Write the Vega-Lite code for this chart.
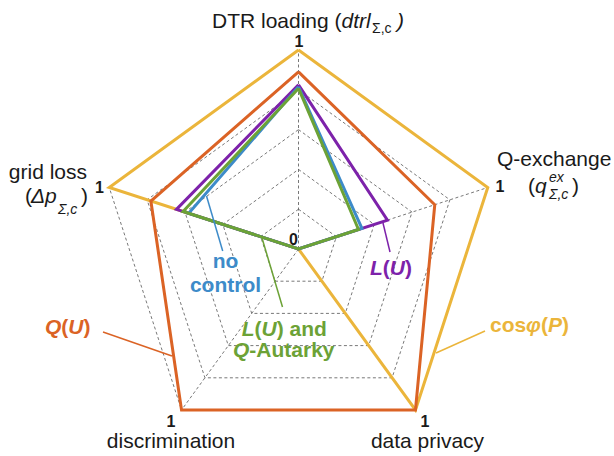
{
 "$schema": "https://vega.github.io/schema/vega-lite/v6.json",
 "width": 614, "height": 456, "padding": 0, "autosize": {"type": "none"},
 "background": "white",
 "config": {"view": {"stroke": null}, "font": "Liberation Sans"},
 "datasets": {
  "series": [
   {"s":"a","k":0,"v":1},{"s":"a","k":1,"v":1},{"s":"a","k":2,"v":1},{"s":"a","k":3,"v":0},{"s":"a","k":4,"v":1},{"s":"a","k":5,"v":1},
   {"s":"b","k":0,"v":0.89},{"s":"b","k":1,"v":0.72},{"s":"b","k":2,"v":1},{"s":"b","k":3,"v":1},{"s":"b","k":4,"v":0.78},{"s":"b","k":5,"v":0.89},
   {"s":"c","k":0,"v":0.825},{"s":"c","k":1,"v":0.47},{"s":"c","k":2,"v":0},{"s":"c","k":3,"v":0},{"s":"c","k":4,"v":0.645},{"s":"c","k":5,"v":0.825},
   {"s":"d","k":0,"v":0.815},{"s":"d","k":1,"v":0.335},{"s":"d","k":2,"v":0},{"s":"d","k":3,"v":0},{"s":"d","k":4,"v":0.58},{"s":"d","k":5,"v":0.815},
   {"s":"e","k":0,"v":0.807},{"s":"e","k":1,"v":0.317},{"s":"e","k":2,"v":0},{"s":"e","k":3,"v":0},{"s":"e","k":4,"v":0.61},{"s":"e","k":5,"v":0.807}
  ],
  "grid": [
   {"g":0.2,"k":[0,1,2,3,4,5]},{"g":0.4,"k":[0,1,2,3,4,5]},{"g":0.6,"k":[0,1,2,3,4,5]},{"g":0.8,"k":[0,1,2,3,4,5]},{"g":1.0,"k":[0,1,2,3,4,5]}
  ],
  "spokes": [
   {"k":0,"r":[0,1]},{"k":1,"r":[0,1]},{"k":2,"r":[0,1]},{"k":3,"r":[0,1]},{"k":4,"r":[0,1]}
  ],
  "leaders": [
   {"s":"b","x":-0.9824,"y":-0.4171,"x2":-0.6357,"y2":-0.5377},
   {"s":"a","x":0.9372,"y":-0.4121,"x2":0.6910,"y2":-0.5226},
   {"s":"c","x":0.4246,"y":0.1307,"x2":0.4598,"y2":-0.0151},
   {"s":"d","x":-0.4623,"y":0.2663,"x2":-0.3809,"y2":-0.0101},
   {"s":"e","x":-0.1834,"y":0.0553,"x2":-0.0804,"y2":-0.2915}
  ],
  "ann": [
   {"k":"a","t":"DTR loading (","x":-0.4347,"y":1.1106},
   {"k":"ai","t":"dtrl","x":0.2161,"y":1.1106},
   {"k":"asu","t":"Σ,c","x":0.3693,"y":1.0854},
   {"k":"ai","t":")","x":0.4950,"y":1.1106},
   {"k":"a","t":"Q-exchange","x":0.9975,"y":0.4171},
   {"k":"a","t":"(","x":1.1533,"y":0.2814},
   {"k":"ai","t":"q","x":1.1884,"y":0.2814},
   {"k":"as","t":"ex","x":1.2588,"y":0.3367},
   {"k":"as","t":"Σ,c","x":1.2588,"y":0.2513},
   {"k":"a","t":")","x":1.3744,"y":0.2814},
   {"k":"ar","t":"grid loss","x":-1.0628,"y":0.3518},
   {"k":"a","t":"(","x":-1.3744,"y":0.2312},
   {"k":"ai","t":"Δp","x":-1.3442,"y":0.2312},
   {"k":"as","t":"Σ,c","x":-1.2085,"y":0.1759},
   {"k":"a","t":")","x":-1.0930,"y":0.2312},
   {"k":"ac","t":"data privacy","x":0.6482,"y":-1.0},
   {"k":"ac","t":"discrimination","x":-0.6407,"y":-1.0},
   {"k":"t","t":"1","x":0.0025,"y":1.0151},
   {"k":"t","t":"1","x":1.0126,"y":0.2864},
   {"k":"t","t":"1","x":-1.0,"y":0.2814},
   {"k":"t","t":"1","x":0.6357,"y":-0.8945},
   {"k":"t","t":"1","x":-0.6407,"y":-0.8945},
   {"k":"t","t":"0","x":-0.0251,"y":0.0201},
   {"k":"si","s":"b","t":"Q","x":-1.2739,"y":-0.4271},
   {"k":"su","s":"b","t":"(","x":-1.1920,"y":-0.4271},
   {"k":"si","s":"b","t":"U","x":-1.1568,"y":-0.4271},
   {"k":"su","s":"b","t":")","x":-1.0804,"y":-0.4271},
   {"k":"su","s":"a","t":"cos","x":0.9623,"y":-0.4146},
   {"k":"si","s":"a","t":"φ","x":1.1432,"y":-0.4146},
   {"k":"su","s":"a","t":"(","x":1.2186,"y":-0.4146},
   {"k":"si","s":"a","t":"P","x":1.2538,"y":-0.4146},
   {"k":"su","s":"a","t":")","x":1.3241,"y":-0.4146},
   {"k":"si","s":"c","t":"L","x":0.3593,"y":-0.1307},
   {"k":"su","s":"c","t":"(","x":0.4236,"y":-0.1307},
   {"k":"si","s":"c","t":"U","x":0.4588,"y":-0.1307},
   {"k":"su","s":"c","t":")","x":0.5352,"y":-0.1307},
   {"k":"sc","s":"d","t":"no","x":-0.3668,"y":-0.0955},
   {"k":"sc","s":"d","t":"control","x":-0.3668,"y":-0.2136},
   {"k":"si","s":"e","t":"L","x":-0.2854,"y":-0.4372},
   {"k":"su","s":"e","t":"(","x":-0.2211,"y":-0.4372},
   {"k":"si","s":"e","t":"U","x":-0.1859,"y":-0.4372},
   {"k":"su","s":"e","t":") and","x":-0.1095,"y":-0.4372},
   {"k":"si","s":"e","t":"Q","x":-0.3291,"y":-0.5427},
   {"k":"su","s":"e","t":"-Autarky","x":-0.2472,"y":-0.5427}
  ]
 },
 "encoding": {
  "x": {"field":"x","type":"quantitative","scale":{"domain":[-1.5,1.5854],"nice":false,"zero":false},"axis":null},
  "y": {"field":"y","type":"quantitative","scale":{"domain":[-1.0402,1.2513],"nice":false,"zero":false},"axis":null}
 },
 "layer": [
  {
   "data": {"name":"grid"},
   "transform": [{"flatten":["k"]},{"calculate":"datum.g*sin(datum.k*2*PI/5)","as":"x"},{"calculate":"datum.g*cos(datum.k*2*PI/5)","as":"y"}],
   "mark": {"type":"line","color":"#555555","strokeWidth":0.8,"strokeDash":[3,2.5]},
   "encoding": {"detail":{"field":"g"},"order":{"field":"k","type":"quantitative"}}
  },
  {
   "data": {"name":"spokes"},
   "transform": [{"flatten":["r"]},{"calculate":"datum.r*sin(datum.k*2*PI/5)","as":"x"},{"calculate":"datum.r*cos(datum.k*2*PI/5)","as":"y"}],
   "mark": {"type":"line","color":"#555555","strokeWidth":0.8,"strokeDash":[3,2.5]},
   "encoding": {"detail":{"field":"k"},"order":{"field":"r","type":"quantitative"}}
  },
  {
   "data": {"name":"series"},
   "transform": [{"calculate":"datum.v*sin(datum.k*2*PI/5)","as":"x"},{"calculate":"datum.v*cos(datum.k*2*PI/5)","as":"y"}],
   "mark": {"type":"line","strokeWidth":3,"strokeJoin":"miter"},
   "encoding": {
    "color":{"field":"s","type":"nominal","scale":{"domain":["a","b","c","d","e"],"range":["#EBB53B","#DB6325","#7D22AA","#3D8BC9","#6CA236"]},"legend":null},
    "order":{"field":"k","type":"quantitative"}
   }
  },
  {
   "data": {"name":"leaders"},
   "mark": {"type":"rule","strokeWidth":1.5},
   "encoding": {
    "x2":{"field":"x2"},"y2":{"field":"y2"},
    "color":{"field":"s","type":"nominal","scale":{"domain":["a","b","c","d","e"],"range":["#EBB53B","#DB6325","#7D22AA","#3D8BC9","#6CA236"]},"legend":null}
   }
  },
  {
   "data": {"name":"ann"},
   "transform": [{"filter":"datum.k=='a'"}],
   "mark": {"type":"text","align":"left","baseline":"alphabetic","fontSize":21,"color":"#1a1a1a"},
   "encoding": {"text":{"field":"t"}}
  },
  {
   "data": {"name":"ann"},
   "transform": [{"filter":"datum.k=='ai'"}],
   "mark": {"type":"text","align":"left","baseline":"alphabetic","fontSize":21,"fontStyle":"italic","color":"#1a1a1a"},
   "encoding": {"text":{"field":"t"}}
  },
  {
   "data": {"name":"ann"},
   "transform": [{"filter":"datum.k=='as'"}],
   "mark": {"type":"text","align":"left","baseline":"alphabetic","fontSize":14,"fontStyle":"italic","color":"#1a1a1a"},
   "encoding": {"text":{"field":"t"}}
  },
  {
   "data": {"name":"ann"},
   "transform": [{"filter":"datum.k=='asu'"}],
   "mark": {"type":"text","align":"left","baseline":"alphabetic","fontSize":14,"color":"#1a1a1a"},
   "encoding": {"text":{"field":"t"}}
  },
  {
   "data": {"name":"ann"},
   "transform": [{"filter":"datum.k=='ar'"}],
   "mark": {"type":"text","align":"right","baseline":"alphabetic","fontSize":21,"color":"#1a1a1a"},
   "encoding": {"text":{"field":"t"}}
  },
  {
   "data": {"name":"ann"},
   "transform": [{"filter":"datum.k=='ac'"}],
   "mark": {"type":"text","align":"center","baseline":"alphabetic","fontSize":21,"color":"#1a1a1a"},
   "encoding": {"text":{"field":"t"}}
  },
  {
   "data": {"name":"ann"},
   "transform": [{"filter":"datum.k=='t'"}],
   "mark": {"type":"text","align":"center","baseline":"alphabetic","fontSize":16,"fontWeight":"bold","color":"#1a1a1a"},
   "encoding": {"text":{"field":"t"}}
  },
  {
   "data": {"name":"ann"},
   "transform": [{"filter":"datum.k=='su'"}],
   "mark": {"type":"text","align":"left","baseline":"alphabetic","fontSize":21,"fontWeight":"bold"},
   "encoding": {"text":{"field":"t"},"color":{"field":"s","type":"nominal","scale":{"domain":["a","b","c","d","e"],"range":["#EBB53B","#DB6325","#7D22AA","#3D8BC9","#6CA236"]},"legend":null}}
  },
  {
   "data": {"name":"ann"},
   "transform": [{"filter":"datum.k=='si'"}],
   "mark": {"type":"text","align":"left","baseline":"alphabetic","fontSize":21,"fontWeight":"bold","fontStyle":"italic"},
   "encoding": {"text":{"field":"t"},"color":{"field":"s","type":"nominal","scale":{"domain":["a","b","c","d","e"],"range":["#EBB53B","#DB6325","#7D22AA","#3D8BC9","#6CA236"]},"legend":null}}
  },
  {
   "data": {"name":"ann"},
   "transform": [{"filter":"datum.k=='sc'"}],
   "mark": {"type":"text","align":"center","baseline":"alphabetic","fontSize":21,"fontWeight":"bold"},
   "encoding": {"text":{"field":"t"},"color":{"field":"s","type":"nominal","scale":{"domain":["a","b","c","d","e"],"range":["#EBB53B","#DB6325","#7D22AA","#3D8BC9","#6CA236"]},"legend":null}}
  }
 ]
}
